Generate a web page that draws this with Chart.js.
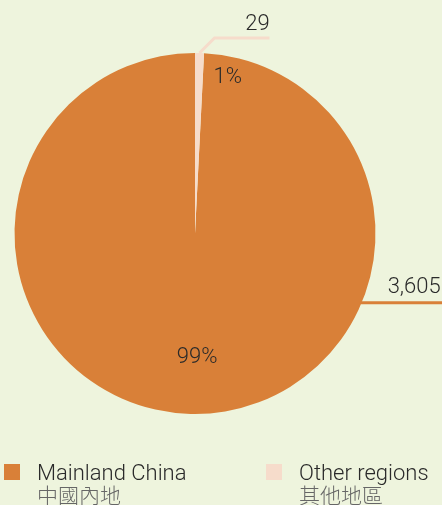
<!DOCTYPE html>
<html>
<head>
<meta charset="utf-8">
<script src="https://cdn.jsdelivr.net/npm/chart.js@4/dist/chart.umd.min.js"></script>
<style>
  html, body { margin: 0; padding: 0; background: #eef4dd; }
  #wrap { width: 442px; height: 505px; position: relative; }
</style>
</head>
<body>
<div id="wrap"><canvas id="pie" width="442" height="505"></canvas></div>
<script>
// data
const categories = ['Mainland China', 'Other regions'];
const categoriesZh = ['中國內地', '其他地區'];
const values = [3605, 29];
const valueLabels = ['3,605', '29'];
const percentLabels = ['99%', '1%'];
const colors = ['#d98038', '#f6dccb'];

const total = values.reduce((a, b) => a + b, 0);

// label placement (angle from 12 o'clock in degrees, radius fraction)
const pctPos = [{ ang: 179, r: 0.68 }, { ang: 11.8, r: 0.89 }];
const latin = '300 22px Roboto, "Liberation Sans", sans-serif';

const labelsPlugin = {
  id: 'labelsPlugin',
  afterDraw(chart) {
    const ctx = chart.ctx;
    const arcs = chart.getDatasetMeta(0).data;
    const cx = arcs[0].x, cy = arcs[0].y, R = arcs[0].outerRadius;
    const pt = (deg, r) => {
      const a = (deg - 90) * Math.PI / 180;
      return [cx + Math.cos(a) * r, cy + Math.sin(a) * r];
    };
    ctx.save();
    ctx.font = latin;
    ctx.fillStyle = '#2a2a2a';
    ctx.textAlign = 'center';
    ctx.textBaseline = 'alphabetic';

    // percentages
    percentLabels.forEach((t, i) => {
      const [x, y] = pt(pctPos[i].ang, R * pctPos[i].r);
      ctx.fillText(t, x, y + 7);
    });

    // leader for other regions (mid angle of sliver)
    const o = arcs[1];
    const mid = (o.startAngle + o.endAngle) / 2;
    const sx = cx + Math.cos(mid) * R, sy = cy + Math.sin(mid) * R;
    ctx.strokeStyle = colors[1];
    ctx.lineWidth = 3;
    ctx.beginPath();
    ctx.moveTo(sx, sy);
    ctx.lineTo(sx + 15, sy - 15);
    ctx.lineTo(sx + 70, sy - 15);
    ctx.stroke();
    ctx.fillText(valueLabels[1], sx + 58, sy - 23);

    // leader for mainland
    const [mx, my] = pt(112.6, R);
    ctx.strokeStyle = colors[0];
    ctx.beginPath();
    ctx.moveTo(mx - 2, my);
    ctx.lineTo(chart.width, my);
    ctx.stroke();
    ctx.textAlign = 'left';
    ctx.fillText(valueLabels[0], mx + 26, my - 10);

    // legend
    const lx = [4, 266];
    categories.forEach((c, i) => {
      ctx.fillStyle = colors[i];
      ctx.fillRect(lx[i], 464, 16, 16);
      ctx.fillStyle = '#2a2a2a';
      ctx.font = latin;
      ctx.fillText(c, lx[i] + 33, 480);
      ctx.fillStyle = '#666';
      ctx.font = '300 21px "Noto Sans CJK TC", sans-serif';
      ctx.fillText(categoriesZh[i], lx[i] + 33, 503);
    });
    ctx.restore();
  }
};

new Chart(document.getElementById('pie'), {
  type: 'pie',
  data: {
    labels: categories,
    datasets: [{
      data: values,
      backgroundColor: colors,
      borderWidth: 0
    }]
  },
  options: {
    responsive: false,
    animation: false,
    rotation: values[1] / total * 360,
    layout: { padding: { left: 14, right: 66, top: 53, bottom: 91 } },
    plugins: {
      legend: { display: false },
      tooltip: { enabled: false }
    },
    events: []
  },
  plugins: [labelsPlugin]
});
</script>
</body>
</html>
